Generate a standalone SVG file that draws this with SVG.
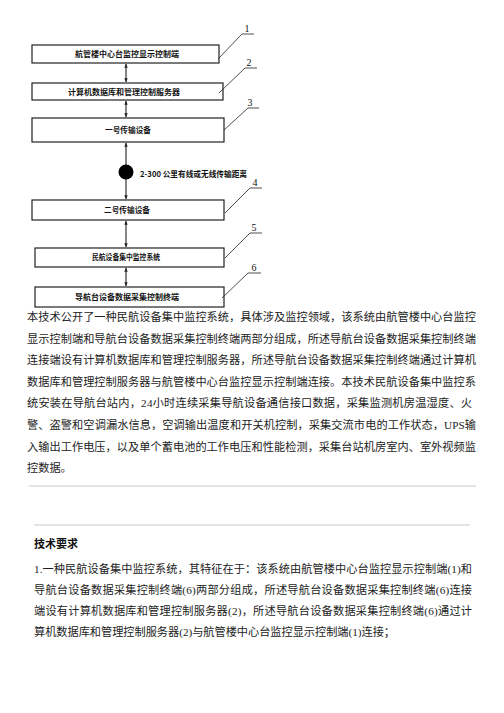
<svg xmlns="http://www.w3.org/2000/svg" width="504" height="713" viewBox="0 0 504 713">
<style>
.box{fill:#fff;stroke:#222;stroke-width:1.2}
.bt{font-family:"Noto Sans CJK SC",sans-serif;font-size:7.5px;font-weight:bold;fill:#111;text-anchor:middle}
.ld{fill:none;stroke:#222;stroke-width:0.8}
.num{font-family:"Liberation Serif",serif;font-size:10px;fill:#111;text-anchor:middle}
.con{stroke:#333;stroke-width:1.2;fill:none;marker-start:url(#ah);marker-end:url(#ah)}
.p{font-family:"Liberation Serif","Noto Sans CJK SC",serif;font-size:11.2px;fill:#222}
.sep{stroke:#ddd;stroke-width:1.5}
</style>
<defs>
<marker id="ah" viewBox="0 0 6 6" refX="5.5" refY="3" markerWidth="4" markerHeight="4" orient="auto-start-reverse" markerUnits="userSpaceOnUse">
<path d="M0,0.5 L6,3 L0,5.5 Z" fill="#222"/>
</marker>
</defs>
<g id="connectors">
<line class="con" x1="126" y1="64" x2="126" y2="82"/>
<line class="con" x1="126" y1="101" x2="126" y2="117"/>
<line class="con" x1="126" y1="143" x2="126" y2="199"/>
<line class="con" x1="126" y1="221" x2="126" y2="247"/>
<line class="con" x1="126" y1="268" x2="126" y2="286"/>
<circle cx="126" cy="172" r="7.5" fill="#000"/>
<text x="140" y="177" style="font-family:'Noto Sans CJK SC',sans-serif;font-size:8px;font-weight:bold;fill:#111" textLength="107" lengthAdjust="spacingAndGlyphs">2-300 公里有线或无线传输距离</text>
</g>
<g id="n1">
<rect class="box" x="32" y="45" width="187" height="18"/>
<text class="bt" x="127" y="57" textLength="104" lengthAdjust="spacingAndGlyphs">航管楼中心台监控显示控制端</text>
<path class="ld" d="M218,59 L242,34 L254,34"/>
<text class="num" x="247" y="32">1</text>
</g>
<g id="n2">
<rect class="box" x="32" y="83" width="191" height="17"/>
<text class="bt" x="124" y="95" textLength="112" lengthAdjust="spacingAndGlyphs">计算机数据库和管理控制服务器</text>
<path class="ld" d="M219,93 L245,68 L257,68"/>
<text class="num" x="249" y="66">2</text>
</g>
<g id="n3">
<rect class="box" x="32" y="118" width="192" height="24"/>
<text class="bt" x="128" y="133" textLength="46" lengthAdjust="spacingAndGlyphs">一号传输设备</text>
<path class="ld" d="M224,130 L248,108 L259,108"/>
<text class="num" x="250" y="106">3</text>
</g>
<g id="n4">
<rect class="box" x="32" y="200" width="192" height="20"/>
<text class="bt" x="127" y="213" textLength="46" lengthAdjust="spacingAndGlyphs">二号传输设备</text>
<path class="ld" d="M225,213 L250,188 L262,188"/>
<text class="num" x="255" y="186">4</text>
</g>
<g id="n5">
<rect class="box" x="35" y="248" width="189" height="19"/>
<text class="bt" x="126" y="260" textLength="68" lengthAdjust="spacingAndGlyphs">民航设备集中监控系统</text>
<path class="ld" d="M225,258 L250,233 L262,233"/>
<text class="num" x="254" y="231">5</text>
</g>
<g id="n6">
<rect class="box" x="35" y="287" width="189" height="20"/>
<text class="bt" x="127" y="300" textLength="104" lengthAdjust="spacingAndGlyphs">导航台设备数据采集控制终端</text>
<path class="ld" d="M222,298 L248,273 L261,273"/>
<text class="num" x="254" y="271">6</text>
</g>
<g id="text">
<text class="p" x="27" y="321" textLength="449">本技术公开了一种民航设备集中监控系统，具体涉及监控领域，该系统由航管楼中心台监控</text>
<text class="p" x="27" y="343" textLength="449">显示控制端和导航台设备数据采集控制终端两部分组成，所述导航台设备数据采集控制终端</text>
<text class="p" x="27" y="364" textLength="449">连接端设有计算机数据库和管理控制服务器，所述导航台设备数据采集控制终端通过计算机</text>
<text class="p" x="27" y="386" textLength="449">数据库和管理控制服务器与航管楼中心台监控显示控制端连接。本技术民航设备集中监控系</text>
<text class="p" x="27" y="407" textLength="445">统安装在导航台站内，24小时连续采集导航设备通信接口数据，采集监测机房温湿度、火</text>
<text class="p" x="27" y="429" textLength="449">警、盗警和空调漏水信息，空调输出温度和开关机控制，采集交流市电的工作状态，UPS输</text>
<text class="p" x="27" y="451" textLength="449">入输出工作电压，以及单个蓄电池的工作电压和性能检测，采集台站机房室内、室外视频监</text>
<text class="p" x="27" y="472">控数据。</text>
<line class="sep" x1="29" y1="486" x2="476" y2="486"/>
<line class="sep" x1="34" y1="525" x2="470" y2="525"/>
<text x="34" y="548" style="font-family:'Noto Sans CJK SC',sans-serif;font-size:11px;font-weight:bold;fill:#111">技术要求</text>
<text class="p" x="34" y="573" textLength="438">1.一种民航设备集中监控系统，其特征在于：该系统由航管楼中心台监控显示控制端(1)和</text>
<text class="p" x="34" y="594" textLength="438">导航台设备数据采集控制终端(6)两部分组成，所述导航台设备数据采集控制终端(6)连接</text>
<text class="p" x="34" y="615" textLength="438">端设有计算机数据库和管理控制服务器(2)，所述导航台设备数据采集控制终端(6)通过计</text>
<text class="p" x="34" y="636" textLength="361">算机数据库和管理控制服务器(2)与航管楼中心台监控显示控制端(1)连接；</text>
</g>
</svg>
